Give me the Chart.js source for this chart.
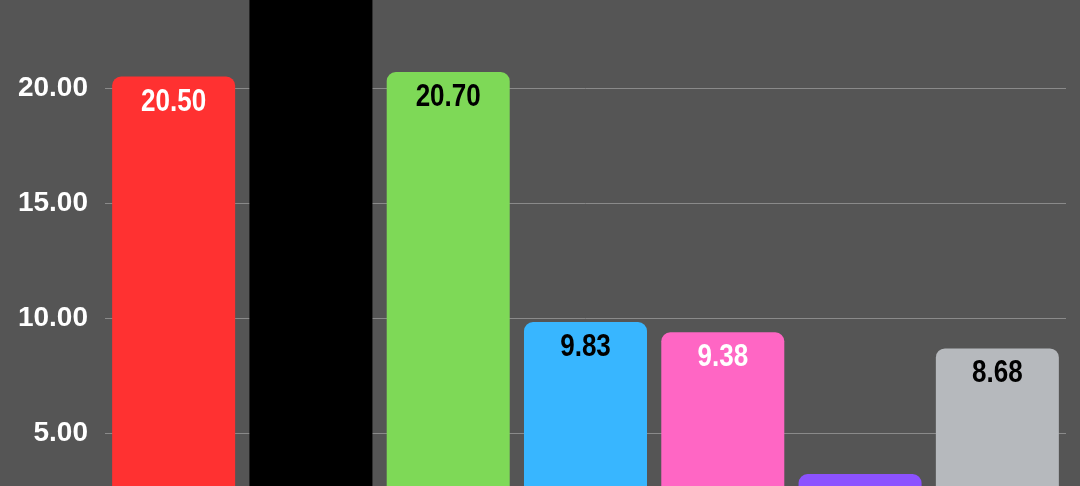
<!DOCTYPE html>
<html lang="en">
	<head>
		<meta charset="utf-8"/>
		<title>Bar chart</title>
		<script src="https://cdn.jsdelivr.net/npm/chart.js@4/dist/chart.umd.min.js"></script>
		<style>
			html, body {
				margin: 0;
				padding: 0;
				background-color: #555555;
				overflow: hidden;
			}
			.container {
				width: 1080px;
				height: 486px;
			}
		</style>
	</head>

	<body>
		<div class="container">
			<canvas id="myChart"></canvas>
		</div>

		<script>
			// values
			const categories = ['A', 'B', 'C', 'D', 'E', 'F', 'G'];
			const values = [20.50, 27.40, 20.70, 9.83, 9.38, 3.22, 8.68];
			const barColors = ['#FF3131', '#000000', '#7ED957', '#38B6FF', '#FF66C4', '#8C52FF', '#B6B9BD'];
			const labelColors = ['#FFFFFF', '#FFFFFF', '#000000', '#000000', '#FFFFFF', '#FFFFFF', '#000000'];
			const tickValues = [5, 10, 15, 20];

			const fontFamily = '"Liberation Sans", Arial, sans-serif';

			// draws the value inside the top of each bar, squeezed a bit to look condensed
			const valueLabels = {
				id: 'valueLabels',
				afterDatasetsDraw(chart) {
					const ctx = chart.ctx;
					const meta = chart.getDatasetMeta(0);
					ctx.save();
					ctx.font = 'bold 31px ' + fontFamily;
					ctx.textAlign = 'center';
					ctx.textBaseline = 'alphabetic';
					meta.data.forEach((bar, i) => {
						ctx.save();
						ctx.translate(bar.x, bar.y + 34);
						ctx.scale(0.84, 1);
						ctx.fillStyle = labelColors[i];
						ctx.fillText(values[i].toFixed(2), 0, 0);
						ctx.restore();
					});
					ctx.restore();
				}
			};

			let ch1 = document.getElementById('myChart').getContext('2d');
			let chart1 = new Chart(ch1, {
				type: 'bar',
				data: {
					labels: categories,
					datasets: [
						{
							data: values,
							backgroundColor: barColors,
							borderRadius: 9,
							borderSkipped: 'start',
							barPercentage: 0.896,
							categoryPercentage: 1.0
						}
					]
				},
				options: {
					responsive: true,
					maintainAspectRatio: false,
					animation: false,
					layout: {
						padding: { left: 0, right: 14, top: 0, bottom: 0 }
					},
					plugins: {
						legend: { display: false },
						tooltip: { enabled: false }
					},
					scales: {
						x: {
							display: false
						},
						y: {
							min: 2.70,
							max: 23.83,
							afterBuildTicks: (scale) => {
								scale.ticks = tickValues.map(v => ({ value: v }));
							},
							afterFit: (scale) => {
								scale.width = 105;
								scale.paddingTop = 0;
								scale.paddingBottom = 0;
							},
							border: { display: false },
							grid: {
								color: '#8A8A8A',
								lineWidth: 1,
								drawTicks: false
							},
							ticks: {
								padding: 17,
								color: '#FFFFFF',
								font: { family: fontFamily, size: 28, weight: 'bold' },
								callback: (v) => Number(v).toFixed(2)
							}
						}
					}
				},
				plugins: [valueLabels]
			});
		</script>
	</body>
</html>
